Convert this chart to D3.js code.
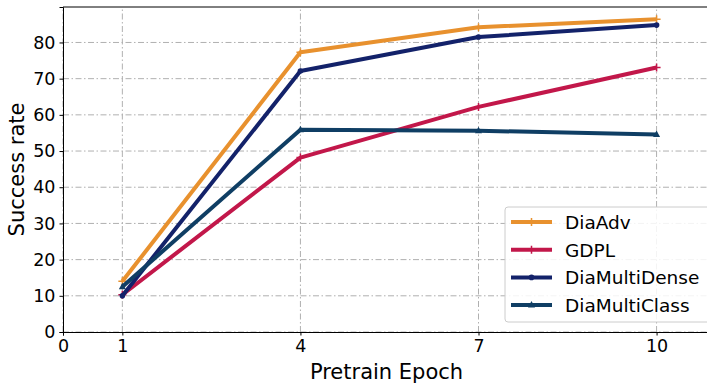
<!DOCTYPE html>
<html>
<head>
<meta charset="utf-8">
<script src="https://cdn.jsdelivr.net/npm/d3@7"></script>
<style>
  body { margin: 0; background: #fff; }
  svg { display: block; font-family: "DejaVu Sans", sans-serif; }
</style>
</head>
<body>
<div class="chart"></div>
<script>
var epochs = [1, 4, 7, 10];
var xTicks = [0, 1, 4, 7, 10];
var yTicks = [0, 10, 20, 30, 40, 50, 60, 70, 80];
var seriesNames = ["DiaAdv", "GDPL", "DiaMultiDense", "DiaMultiClass"];
var diaAdv = [14.0, 77.3, 84.2, 86.4];
var gdpl = [10.3, 48.2, 62.2, 73.1];
var diaMultiDense = [10.0, 72.1, 81.5, 84.8];
var diaMultiClass = [12.5, 55.9, 55.6, 54.6];
var colors = ["#e8912e", "#c2174a", "#13226a", "#0f3e64"];
var markers = ["+", "+", "dot", "tri"];

var W = 707, H = 384;
var margin = {left: 63, top: 7, right: -3, bottom: 52};

var svg = d3.select(".chart").append("svg")
  .attr("width", W).attr("height", H);

var x = d3.scaleLinear().domain([0, 10.9]).range([margin.left, W - margin.right]);
var y = d3.scaleLinear().domain([0, 89.8]).range([H - margin.bottom, margin.top]);

// grid
var grid = svg.append("g");
grid.selectAll(".gx").data(xTicks).enter().append("line")
  .attr("x1", d => x(d)).attr("x2", d => x(d))
  .attr("y1", y.range()[0]).attr("y2", y.range()[1])
  .attr("stroke", "#b0b0b0").attr("stroke-width", 1)
  .attr("stroke-dasharray", "6,2.5,1.5,2.5");
grid.selectAll(".gy").data(yTicks).enter().append("line")
  .attr("y1", d => y(d)).attr("y2", d => y(d))
  .attr("x1", x.range()[0]).attr("x2", x.range()[1])
  .attr("stroke", "#b0b0b0").attr("stroke-width", 1)
  .attr("stroke-dasharray", "6,2.5,1.5,2.5");

// axes
var xAxis = svg.append("g")
  .attr("transform", "translate(0," + y(0) + ")")
  .call(d3.axisBottom(x).tickValues(xTicks).tickSize(3.5).tickPadding(4).tickFormat(d3.format("d")));
var yAxis = svg.append("g")
  .attr("transform", "translate(" + x(0) + ",0)")
  .call(d3.axisLeft(y).tickValues(yTicks).tickSize(3.5).tickPadding(4).tickFormat(d3.format("d")));
[xAxis, yAxis].forEach(function(a) {
  a.select(".domain").attr("stroke", "#000").attr("stroke-width", 1);
  a.selectAll(".tick line").attr("stroke", "#000").attr("stroke-width", 1);
  a.selectAll(".tick text").attr("fill", "#000")
    .style("font-size", "17.5px").style("font-family", "DejaVu Sans");
});
// top spine
svg.append("line")
  .attr("x1", x.range()[0]).attr("x2", x.range()[1])
  .attr("y1", y.range()[1]).attr("y2", y.range()[1])
  .attr("stroke", "#000").attr("stroke-width", 1);

// axis labels
svg.append("text")
  .attr("x", (x.range()[0] + x.range()[1]) / 2).attr("y", 379)
  .attr("text-anchor", "middle").style("font-size", "21px")
  .text("Pretrain Epoch");
svg.append("text")
  .attr("transform", "translate(24," + ((y.range()[0] + y.range()[1]) / 2) + ") rotate(-90)")
  .attr("text-anchor", "middle").style("font-size", "21px")
  .text("Success rate");

var allSeries = [diaAdv, gdpl, diaMultiDense, diaMultiClass];
var line = d3.line().x((d, i) => x(epochs[i])).y(d => y(d));

function drawMarker(g, kind, cx, cy, color) {
  if (kind === "+") {
    g.append("path")
      .attr("d", "M" + (cx - 4) + "," + cy + "H" + (cx + 4) + "M" + cx + "," + (cy - 4) + "V" + (cy + 4))
      .attr("stroke", color).attr("stroke-width", 1.5);
  } else if (kind === "dot") {
    g.append("circle").attr("cx", cx).attr("cy", cy).attr("r", 2.8).attr("fill", color);
  } else {
    g.append("path")
      .attr("d", "M" + cx + "," + (cy - 4) + "L" + (cx + 3.5) + "," + (cy + 2.5) + "L" + (cx - 3.5) + "," + (cy + 2.5) + "Z")
      .attr("fill", color);
  }
}

allSeries.forEach(function(vals, k) {
  var g = svg.append("g");
  g.append("path").datum(vals)
    .attr("d", line).attr("fill", "none")
    .attr("stroke", colors[k]).attr("stroke-width", 4)
    .attr("stroke-linejoin", "round");
  vals.forEach(function(v, i) {
    drawMarker(g, markers[k], x(epochs[i]), y(v), colors[k]);
  });
});

// legend
var leg = svg.append("g").attr("transform", "translate(505,207)");
leg.append("rect")
  .attr("width", 210).attr("height", 115).attr("rx", 3)
  .attr("fill", "#fff").attr("fill-opacity", 0.85)
  .attr("stroke", "#cccccc").attr("stroke-width", 1);
seriesNames.forEach(function(name, k) {
  var ly = 15 + k * 27.7;
  leg.append("line")
    .attr("x1", 6).attr("x2", 47).attr("y1", ly).attr("y2", ly)
    .attr("stroke", colors[k]).attr("stroke-width", 4);
  drawMarker(leg, markers[k], 26.5, ly, colors[k]);
  leg.append("text")
    .attr("x", 60).attr("y", ly + 7)
    .style("font-size", "18.5px").attr("fill", "#000")
    .text(name);
});
</script>
</body>
</html>
